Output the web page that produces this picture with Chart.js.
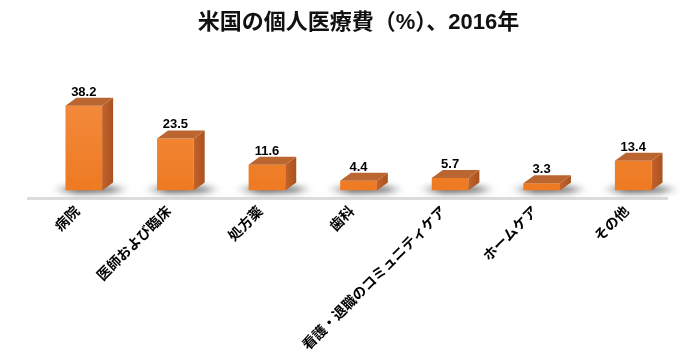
<!DOCTYPE html>
<html lang="ja">
<head>
<meta charset="UTF-8">
<title>米国の個人医療費</title>
<script src="https://cdn.jsdelivr.net/npm/chart.js"></script>
<style>
  html, body { margin: 0; padding: 0; background: #fff; }
  #wrap { width: 699px; height: 363px; }
</style>
</head>
<body>
<div id="wrap"><canvas id="myChart"></canvas></div>
<script>
// data
const categories = ['病院', '医師および臨床', '処方薬', '歯科', '看護・退職のコミュニティケア', 'ホームケア', 'その他'];
const shares = [38.2, 23.5, 11.6, 4.4, 5.7, 3.3, 13.4];
const chartTitle = '米国の個人医療費（%）、2016年';

// 3D look
const DEPTH_X = 11;
const DEPTH_Y = 8;

const bar3d = {
    id: 'bar3d',
    beforeDatasetsDraw(chart) {
        const ctx = chart.ctx;
        const meta = chart.getDatasetMeta(0);
        const base = chart.scales.y.getPixelForValue(0);
        ctx.save();
        // floor line
        ctx.strokeStyle = '#dcdcdc';
        ctx.lineWidth = 3;
        ctx.beginPath();
        ctx.moveTo(chart.chartArea.left - DEPTH_X, base + DEPTH_Y);
        ctx.lineTo(chart.chartArea.right - DEPTH_X, base + DEPTH_Y);
        ctx.stroke();
        // soft shadows under bars
        ctx.filter = 'blur(3px)';
        meta.data.forEach(bar => {
            const w = bar.width;
            const g = ctx.createLinearGradient(bar.x - w / 2 - 14, 0, bar.x + w / 2 + 30, 0);
            g.addColorStop(0, 'rgba(90,90,90,0)');
            g.addColorStop(0.3, 'rgba(50,50,50,0.85)');
            g.addColorStop(0.75, 'rgba(60,60,60,0.7)');
            g.addColorStop(1, 'rgba(90,90,90,0)');
            ctx.fillStyle = g;
            ctx.beginPath();
            ctx.ellipse(bar.x + 6, base - 1, w / 2 + 20, 3.5, 0, 0, Math.PI * 2);
            ctx.fill();
        });
        ctx.restore();
    },
    afterDatasetsDraw(chart) {
        const ctx = chart.ctx;
        const meta = chart.getDatasetMeta(0);
        ctx.save();
        meta.data.forEach((bar, i) => {
            const l = bar.x - bar.width / 2;
            const r = bar.x + bar.width / 2;
            const t = bar.y;
            const b = bar.base;
            // side
            const sg = ctx.createLinearGradient(r, 0, r + DEPTH_X, 0);
            sg.addColorStop(0, '#c4622a');
            sg.addColorStop(1, '#a9521f');
            ctx.fillStyle = sg;
            ctx.beginPath();
            ctx.moveTo(r, t);
            ctx.lineTo(r + DEPTH_X, t - DEPTH_Y);
            ctx.lineTo(r + DEPTH_X, b - DEPTH_Y);
            ctx.lineTo(r, b);
            ctx.closePath();
            ctx.fill();
            // top
            ctx.fillStyle = '#bb6630';
            ctx.beginPath();
            ctx.moveTo(l, t);
            ctx.lineTo(l + DEPTH_X, t - DEPTH_Y);
            ctx.lineTo(r + DEPTH_X, t - DEPTH_Y);
            ctx.lineTo(r, t);
            ctx.closePath();
            ctx.fill();
            // value label
            ctx.fillStyle = '#000';
            ctx.font = 'bold 13px "Liberation Sans", Arial, sans-serif';
            ctx.textAlign = 'center';
            ctx.textBaseline = 'alphabetic';
            ctx.fillText(shares[i].toFixed(1), bar.x, t - DEPTH_Y - 2);
        });
        ctx.restore();
    }
};

const ctx = document.getElementById('myChart').getContext('2d');
new Chart(ctx, {
    type: 'bar',
    data: {
        labels: categories,
        datasets: [{
            data: shares,
            backgroundColor: function (c) {
                const area = c.chart.chartArea;
                if (!area) return '#f07f2a';
                const g = c.chart.ctx.createLinearGradient(0, area.top, 0, area.bottom);
                g.addColorStop(0, '#f6944c');
                g.addColorStop(1, '#ee7a22');
                return g;
            },
            borderWidth: 0,
            barPercentage: 0.4,
            categoryPercentage: 1.0
        }]
    },
    options: {
        responsive: true,
        maintainAspectRatio: false,
        animation: false,
        layout: { padding: { left: 38, right: 20, top: 6, bottom: 6 } },
        plugins: {
            legend: { display: false },
            tooltip: { enabled: false },
            title: {
                display: true,
                text: chartTitle,
                color: '#111',
                font: { family: '"Liberation Sans", "Noto Sans CJK JP", sans-serif', size: 22, weight: 'bold' },
                padding: { top: 4, bottom: 10 }
            }
        },
        scales: {
            x: {
                grid: { display: false },
                border: { display: false },
                ticks: {
                    color: '#000',
                    minRotation: 45,
                    maxRotation: 45,
                    padding: 4,
                    labelOffset: -7,
                    font: { family: '"Noto Sans CJK JP", sans-serif', size: 14, weight: 'bold' }
                }
            },
            y: {
                display: false,
                min: 0,
                max: 65
            }
        }
    },
    plugins: [bar3d]
});
</script>
</body>
</html>
